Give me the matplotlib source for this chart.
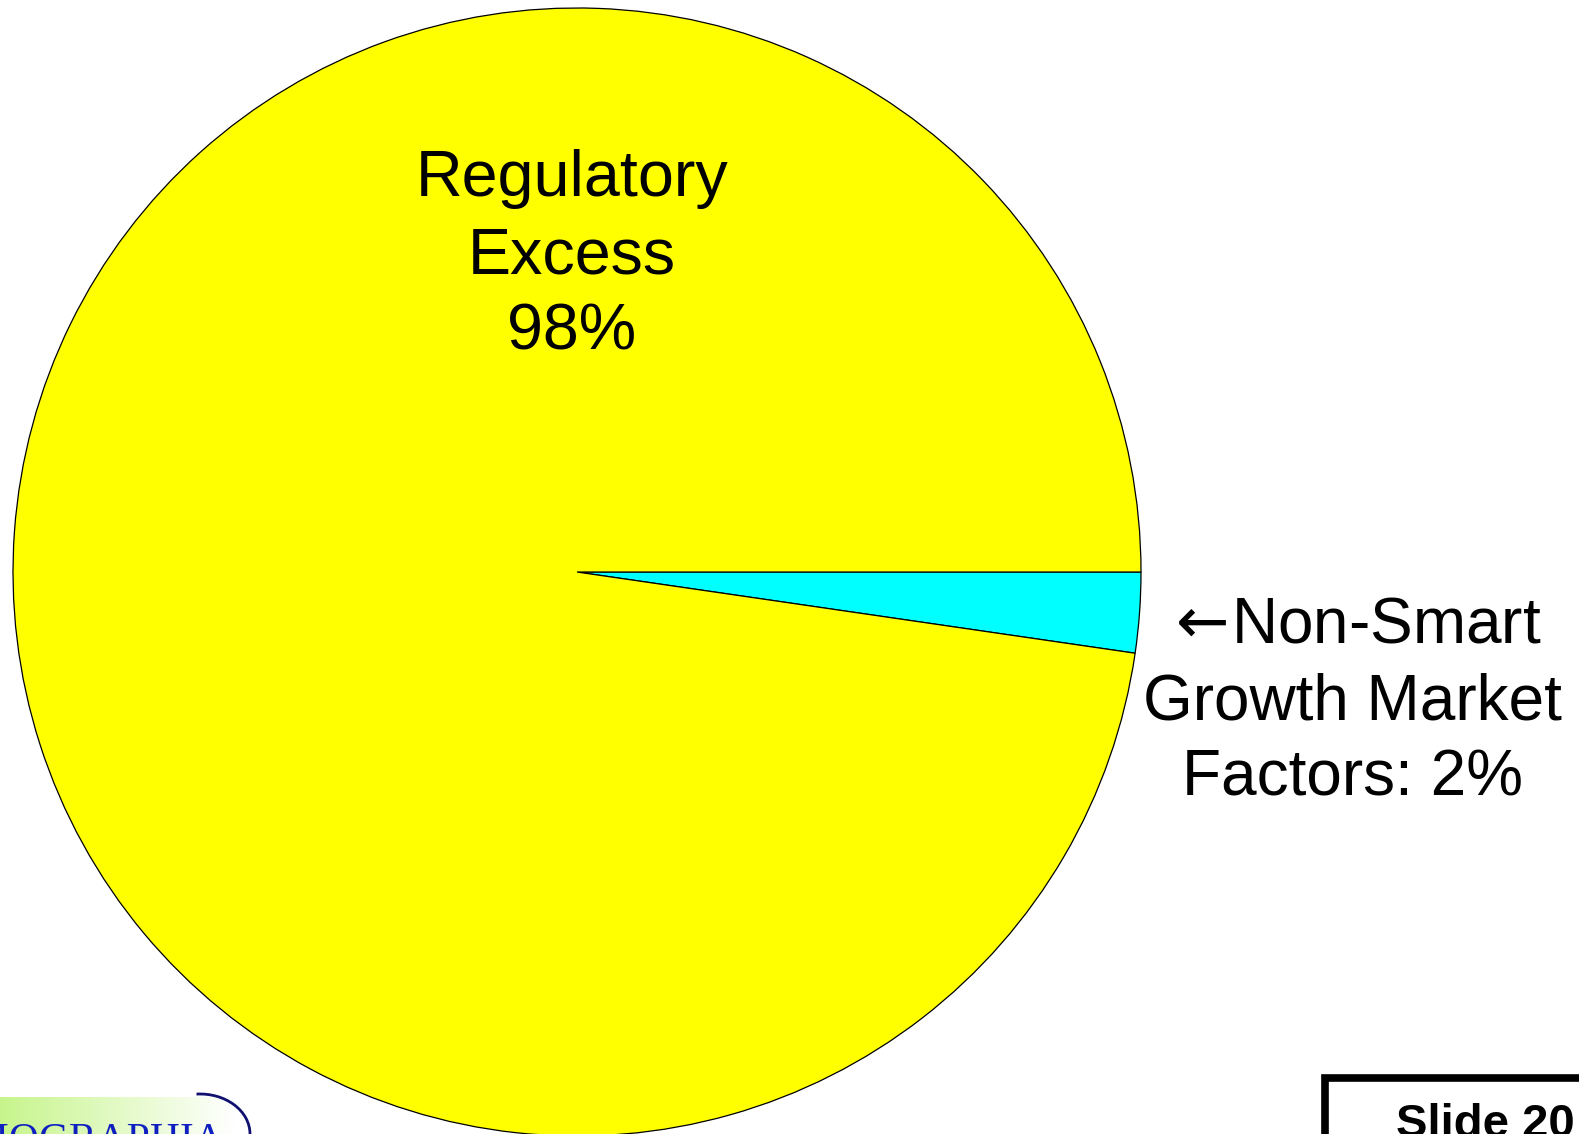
import matplotlib.pyplot as plt
import numpy as np
from matplotlib.patches import Arc, Rectangle

W, H = 1579, 1134

# shares (labels quote the rounded figures)
labels = ["Non-Smart Growth Market Factors", "Regulatory Excess"]
shares = [2.3, 97.7]
colors = ["#00FFFF", "#FFFF00"]
big_label = "Regulatory\nExcess\n98%"
small_label = "$\\leftarrow\\!$Non-Smart\nGrowth Market\nFactors: 2%"

plt.rcParams["font.family"] = ["Liberation Sans", "DejaVu Sans"]
plt.rcParams["mathtext.fontset"] = "dejavusans"

fig = plt.figure(figsize=(W / 100, H / 100), dpi=100)
ax = fig.add_axes([0, 0, 1, 1])

cx, cy, r = 577, H - 572, 564
ax.pie(shares, colors=colors, startangle=0, counterclock=False,
       center=(cx, cy), radius=r,
       wedgeprops={"edgecolor": "black", "linewidth": 0.9})

ax.set_xlim(0, W)
ax.set_ylim(0, H)
ax.set_aspect("equal")
ax.axis("off")

ax.text(572, H - 256, big_label, ha="center", va="center", fontsize=46.5,
        linespacing=1.36)
ax.text(1352, H - 702, small_label, ha="center", va="center", fontsize=46,
        linespacing=1.36)

# slide number box, cut off by the page edge
ax.add_patch(Rectangle((1325, -20), 300, H - 1078 + 20, fill=False,
                       edgecolor="black", linewidth=5.5, clip_on=True))
ax.text(1396, H - 1137, "Slide 20", ha="left", va="baseline", fontsize=34,
        fontweight="bold")

# logo fragment in the lower left corner
grad = np.linspace(0, 1, 256)[None, :]
logo = np.ones((1, 256, 3))
logo[..., 0] = 0.78 + 0.22 * grad
logo[..., 1] = 0.96 + 0.04 * grad
logo[..., 2] = 0.55 + 0.45 * grad
ax.imshow(logo, extent=(0, 235, 0, H - 1097), aspect="auto", zorder=1)
ax.add_patch(Arc((200, H - 1134), 100, 80, theta1=0, theta2=95,
                 color="#101070", linewidth=2, zorder=2))
ax.text(224, H - 1152, "DEMOGRAPHIA", ha="right", va="baseline",
        fontsize=30, family=["Liberation Serif"], color="#1020C0", zorder=3)

ax.set_xlim(0, W)
ax.set_ylim(0, H)

fig.savefig("out.png", dpi=100)
